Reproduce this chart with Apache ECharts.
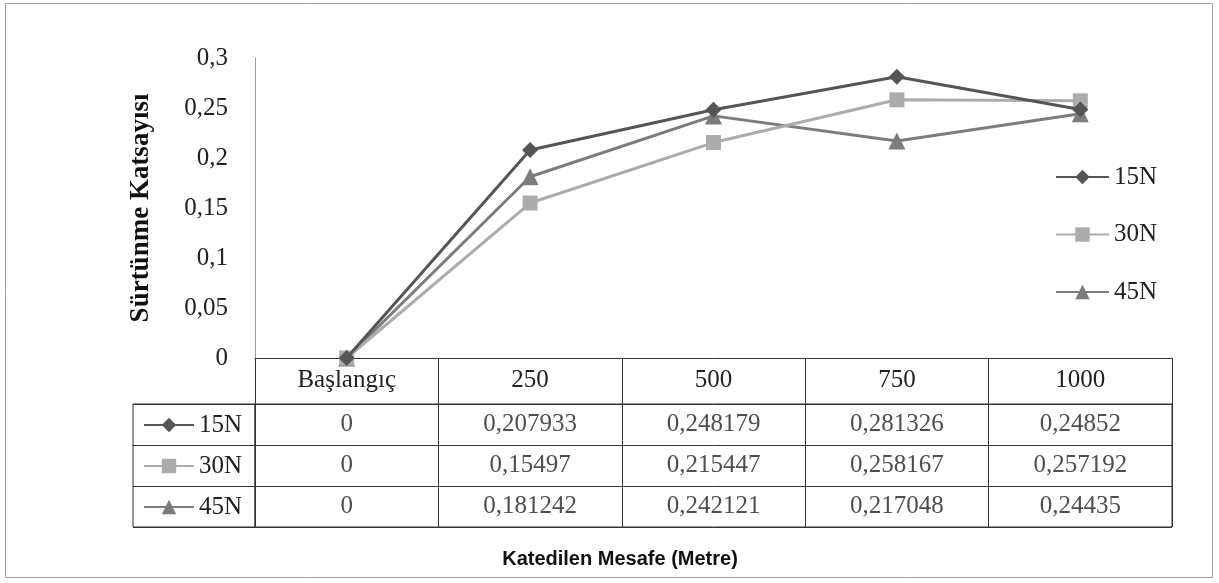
<!DOCTYPE html>
<html>
<head>
<meta charset="utf-8">
<script src="https://cdn.jsdelivr.net/npm/echarts@6/dist/echarts.min.js"></script>
<style>
  html, body { margin: 0; padding: 0; background: #fff; }
  #chart { width: 1219px; height: 583px; }
</style>
</head>
<body>
<div id="chart"></div>
<script>
// Distance categories (metres) and friction coefficients per normal load
const categories = ['Başlangıç', '250', '500', '750', '1000'];
const seriesNames = ['15N', '30N', '45N'];
const values15N = [0, 0.207933, 0.248179, 0.281326, 0.24852];
const values30N = [0, 0.15497, 0.215447, 0.258167, 0.257192];
const values45N = [0, 0.181242, 0.242121, 0.217048, 0.24435];
const yTicks = { min: 0, max: 0.3, interval: 0.05 };

const serif = "'Liberation Serif', 'Times New Roman', serif";
const allValues = [values15N, values30N, values45N];
const colors = ['#555555', '#acacac', '#7c7c7c'];
const symbols = ['diamond', 'rect', 'triangle'];
const symbolSizes = [16, 15, 17];

// decimal comma formatting as in the Turkish locale
const fmt = v => String(v).replace('.', ',');

const lineSeries = seriesNames.map((name, i) => ({
  name,
  type: 'line',
  xAxisIndex: 0,
  yAxisIndex: 0,
  data: allValues[i],
  symbol: symbols[i],
  symbolSize: symbolSizes[i],
  showAllSymbol: true,
  lineStyle: { color: colors[i], width: 3 },
  itemStyle: { color: colors[i] },
  z: 10 - i,
  silent: true
}));

// cells of the data table under the plot
const tableCells = [];
allValues.forEach((arr, r) => {
  arr.forEach((v, c) => tableCells.push([categories[c], seriesNames[r], v]));
});

const axisGray = '#333';
const tableFont = { fontFamily: serif, fontSize: 25, color: '#222' };

// legend key drawn in the first column of each table row
const rowLegend = (name, i) => ({
  data: [name],
  orient: 'horizontal',
  left: 138,
  top: 407.5 + i * 41,
  itemWidth: 50,
  itemHeight: 18,
  selectedMode: false,
  textStyle: tableFont
});

const option = {
  animation: false,
  backgroundColor: '#fff',
  title: {
    text: 'Katedilen Mesafe (Metre)',
    left: 615,
    top: 544,
    textAlign: 'center',
    textStyle: {
      fontFamily: "'Liberation Sans Narrow', 'Arial Narrow', 'Liberation Sans', sans-serif",
      fontWeight: 'bold',
      fontSize: 20,
      color: '#111'
    }
  },
  legend: [
    {
      data: seriesNames,
      orient: 'vertical',
      left: 1050,
      top: 159.5,
      itemWidth: 53,
      itemHeight: 18,
      itemGap: 32.5,
      selectedMode: false,
      textStyle: tableFont
    },
    ...seriesNames.map(rowLegend)
  ],
  grid: [
    { left: 255, top: 58, width: 917, height: 300 },
    { left: 255, top: 404, width: 917, height: 123, show: true, borderColor: axisGray, borderWidth: 1 },
    { left: 133, top: 404, width: 122, height: 123, show: true, borderColor: axisGray, borderWidth: 1 }
  ],
  xAxis: [
    {
      gridIndex: 0,
      type: 'category',
      data: categories,
      boundaryGap: true,
      axisLine: { lineStyle: { color: axisGray, width: 1 } },
      axisTick: { show: true, length: 46, interval: 0, lineStyle: { color: axisGray } },
      axisLabel: { interval: 0, margin: 10, ...tableFont }
    },
    {
      gridIndex: 1,
      type: 'category',
      data: categories,
      boundaryGap: true,
      axisLine: { show: false },
      axisTick: { show: false },
      axisLabel: { show: false },
      splitLine: { show: true, interval: 0, lineStyle: { color: axisGray } }
    },
    {
      gridIndex: 2,
      type: 'value',
      min: 0,
      max: 1,
      axisLine: { show: false },
      axisTick: { show: false },
      axisLabel: { show: false },
      splitLine: { show: false }
    }
  ],
  yAxis: [
    {
      gridIndex: 0,
      type: 'value',
      min: yTicks.min,
      max: yTicks.max,
      interval: yTicks.interval,
      name: 'Sürtünme Katsayısı',
      nameLocation: 'middle',
      nameRotate: 90,
      nameGap: 100,
      nameTextStyle: { fontFamily: serif, fontWeight: 'bold', fontSize: 27, color: '#111' },
      axisLine: { show: true, lineStyle: { color: '#9a9a9a', width: 1 } },
      axisTick: { show: false },
      splitLine: { show: false },
      axisLabel: {
        margin: 27,
        ...tableFont,
        formatter: v => fmt(+v.toFixed(2))
      }
    },
    {
      gridIndex: 1,
      type: 'category',
      data: seriesNames,
      inverse: true,
      axisLine: { show: false },
      axisTick: { show: false },
      axisLabel: { show: false },
      splitLine: { show: true, interval: 0, lineStyle: { color: axisGray } }
    },
    {
      gridIndex: 2,
      type: 'category',
      data: seriesNames,
      inverse: true,
      axisLine: { show: false },
      axisTick: { show: false },
      axisLabel: { show: false },
      splitLine: { show: true, interval: 0, lineStyle: { color: axisGray } }
    }
  ],
  graphic: [
    {
      type: 'rect',
      shape: { x: 5.5, y: 3.5, width: 1207, height: 574 },
      style: { fill: 'none', stroke: '#a0a0a0', lineWidth: 1 },
      silent: true
    }
  ],
  series: [
    ...lineSeries,
    {
      type: 'scatter',
      xAxisIndex: 1,
      yAxisIndex: 1,
      data: tableCells,
      symbolSize: 1,
      itemStyle: { color: 'rgba(0,0,0,0)' },
      silent: true,
      label: {
        show: true,
        position: 'inside',
        ...tableFont,
        formatter: p => fmt(p.value[2])
      }
    }
  ]
};

const chart = echarts.init(document.getElementById('chart'), null, { renderer: 'canvas' });
chart.setOption(option);
</script>
</body>
</html>
